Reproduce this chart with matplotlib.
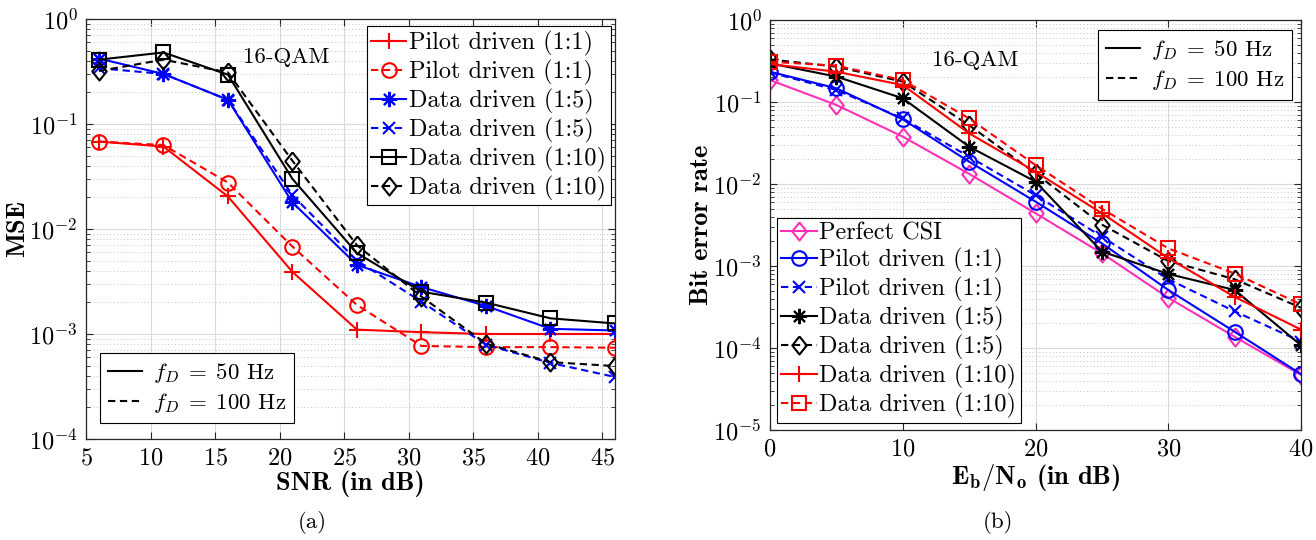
import matplotlib
matplotlib.use("Agg")
import matplotlib.pyplot as plt
from matplotlib.lines import Line2D
from matplotlib.ticker import LogLocator, NullFormatter, FixedLocator

plt.rcParams['font.family'] = ['cmr10', 'DejaVu Serif']
plt.rcParams['mathtext.fontset'] = 'cm'
plt.rcParams['axes.unicode_minus'] = False
plt.rcParams['axes.formatter.use_mathtext'] = True

# ---------------- data: panel (a) ----------------
snr = [6, 11, 16, 21, 26, 31, 36, 41, 46]
mse_pilot_50 = [0.068, 0.061, 0.0204, 0.0039, 0.00110, 0.00104, 0.00100, 0.00100, 0.00100]
mse_pilot_100 = [0.068, 0.063, 0.0277, 0.0068, 0.00189, 0.00077, 0.00075, 0.00075, 0.00074]
mse_d5_50 = [0.42, 0.30, 0.17, 0.0179, 0.00455, 0.0028, 0.00185, 0.00112, 0.00108]
mse_d5_100 = [0.34, 0.30, 0.17, 0.021, 0.0050, 0.00203, 0.00079, 0.00053, 0.00039]
mse_d10_50 = [0.41, 0.48, 0.295, 0.030, 0.0059, 0.00253, 0.00199, 0.00141, 0.00126]
mse_d10_100 = [0.32, 0.41, 0.31, 0.0446, 0.0070, 0.00227, 0.00081, 0.00054, 0.000495]

# ---------------- data: panel (b) ----------------
ebno = [0, 5, 10, 15, 20, 25, 30, 35, 40]
ber_perfect = [0.185, 0.092, 0.0378, 0.0133, 0.0044, 0.00143, 0.00041, 0.000137, 4.7e-5]
ber_pilot_50 = [0.234, 0.147, 0.0615, 0.0187, 0.0061, 0.00189, 0.00051, 0.000158, 4.8e-5]
ber_pilot_100 = [0.23, 0.14, 0.063, 0.0215, 0.0073, 0.00228, 0.00069, 0.00028, 0.00012]
ber_d5_50 = [0.296, 0.204, 0.111, 0.0285, 0.0107, 0.0015, 0.00080, 0.00051, 0.000108]
ber_d5_100 = [0.33, 0.27, 0.177, 0.052, 0.0135, 0.0032, 0.00115, 0.00069, 0.00031]
ber_d10_50 = [0.29, 0.234, 0.161, 0.0415, 0.0141, 0.0044, 0.00125, 0.00042, 0.000168]
ber_d10_100 = [0.31, 0.277, 0.185, 0.063, 0.017, 0.0050, 0.00164, 0.00081, 0.00034]

labels_a = ['Pilot driven (1:1)', 'Pilot driven (1:1)', 'Data driven (1:5)',
            'Data driven (1:5)', 'Data driven (1:10)', 'Data driven (1:10)']
labels_b = ['Perfect CSI', 'Pilot driven (1:1)', 'Pilot driven (1:1)', 'Data driven (1:5)',
            'Data driven (1:5)', 'Data driven (1:10)', 'Data driven (1:10)']
fd_labels = [r'$f_D\;=\;50$ Hz', r'$f_D\;=\;100$ Hz']

RED = '#ff0000'
BLUE = '#0000ff'
BLK = '#000000'
PINK = '#ff30b4'
DASH = (0, (3.5, 2.2))
LW = 1.5
FS = 16.5
LEGFS = 17.5
TFS = 17.5
LFS = 19
ASTER = (8, 2, 0)
DIAM = [(0, 1), (0.8, 0), (0, -1), (-0.8, 0), (0, 1)]

fig = plt.figure(figsize=(13.16, 5.40), dpi=100)
W, H = 1316, 540
ax1 = fig.add_axes([86 / W, (H - 439) / H, (615 - 86) / W, (439 - 19) / H])
ax2 = fig.add_axes([770 / W, (H - 430) / H, (1301 - 770) / W, (430 - 20) / H])

def mk(color, ls, marker, ms):
    return dict(color=color, linestyle=ls, linewidth=LW, marker=marker, markersize=ms,
                markerfacecolor='none', markeredgecolor=color, markeredgewidth=1.5)

styles_a = [mk(RED, '-', '+', 12), mk(RED, DASH, 'o', 10.5), mk(BLUE, '-', ASTER, 11),
            mk(BLUE, DASH, 'x', 8), mk(BLK, '-', 's', 9.5), mk(BLK, DASH, DIAM, 13)]
series_a = [mse_pilot_50, mse_pilot_100, mse_d5_50, mse_d5_100, mse_d10_50, mse_d10_100]
for y, st, lb in zip(series_a, styles_a, labels_a):
    ax1.plot(snr, y, label=lb, **st)

styles_b = [mk(PINK, '-', DIAM, 13), mk(BLUE, '-', 'o', 10.5), mk(BLUE, DASH, 'x', 8),
            mk(BLK, '-', ASTER, 11), mk(BLK, DASH, DIAM, 13), mk(RED, '-', '+', 12),
            mk(RED, DASH, 's', 9.5)]
series_b = [ber_perfect, ber_pilot_50, ber_pilot_100, ber_d5_50, ber_d5_100, ber_d10_50, ber_d10_100]
for y, st, lb in zip(series_b, styles_b, labels_b):
    ax2.plot(ebno, y, label=lb, **st)

def style_axes(ax):
    ax.set_yscale('log')
    ax.yaxis.set_major_locator(LogLocator(base=10, numticks=20))
    ax.yaxis.set_minor_locator(LogLocator(base=10, subs=range(2, 10), numticks=20))
    ax.yaxis.set_minor_formatter(NullFormatter())
    ax.grid(True, which='major', color='#dadada', linestyle='-', linewidth=0.8)
    ax.grid(True, which='minor', axis='y', color='#c4c4c4', linestyle=(0, (1, 2.5)), linewidth=0.7)
    ax.set_axisbelow(True)
    ax.tick_params(which='both', direction='in', top=True, right=True, labelsize=TFS,
                   colors='#262626', labelcolor='black')
    ax.tick_params(which='major', length=5, width=0.8, pad=6)
    ax.tick_params(which='minor', length=3, width=0.6)
    for s in ax.spines.values():
        s.set_color('#262626')
        s.set_linewidth(0.9)

style_axes(ax1)
style_axes(ax2)

ax1.set_xlim(5, 46)
ax1.set_ylim(1e-4, 1)
ax1.xaxis.set_major_locator(FixedLocator([5, 10, 15, 20, 25, 30, 35, 40, 45]))
ax2.set_xlim(0, 40)
ax2.set_ylim(1e-5, 1)
ax2.xaxis.set_major_locator(FixedLocator([0, 10, 20, 30, 40]))

ax1.set_xlabel('SNR (in dB)', fontfamily='cmb10', fontsize=LFS, labelpad=1)
ax1.set_ylabel('MSE', fontfamily='cmb10', fontsize=LFS, labelpad=0)
ax2.set_xlabel(r'$\mathbf{E}_\mathbf{b}/\mathbf{N}_\mathbf{o}$ (in dB)', fontfamily='cmb10',
               fontsize=LFS, labelpad=1)
ax2.set_ylabel('Bit error rate', fontfamily='cmb10', fontsize=LFS, labelpad=0)

ax1.text(0.378, 0.9095, '16-QAM', transform=ax1.transAxes, ha='center', va='center', fontsize=FS)
ax2.text(0.386, 0.902, '16-QAM', transform=ax2.transAxes, ha='center', va='center', fontsize=FS)

leg_kw = dict(frameon=True, fancybox=False, framealpha=1, edgecolor='black', borderaxespad=0,
              fontsize=LEGFS, handlelength=1.45, handletextpad=0.12, borderpad=0.18,
              labelspacing=0.16, numpoints=1)

# panel (a) legends
la = ax1.legend(loc='upper right', bbox_to_anchor=(0.992, 0.983), **leg_kw)
la.get_frame().set_linewidth(0.8)
ax1.add_artist(la)
fd_handles = [Line2D([], [], color='black', linestyle='-', linewidth=LW),
              Line2D([], [], color='black', linestyle=DASH, linewidth=LW)]
kw2 = dict(leg_kw)
kw2.update(fontsize=FS, handlelength=1.5, handletextpad=0.45, borderpad=0.35, labelspacing=0.25)
lb1 = ax1.legend(fd_handles, fd_labels, loc='lower left', bbox_to_anchor=(0.0265, 0.038), **kw2)
lb1.get_frame().set_linewidth(0.8)

# panel (b) legends
lc = ax2.legend(loc='lower left', bbox_to_anchor=(0.013, 0.018), **leg_kw)
lc.get_frame().set_linewidth(0.8)
ax2.add_artist(lc)
ld = ax2.legend(fd_handles, fd_labels, loc='upper right', bbox_to_anchor=(0.983, 0.9756), **kw2)
ld.get_frame().set_linewidth(0.8)

fig.text(312 / W, 1 - 523 / H, '(a)', ha='center', va='center', fontsize=FS)
fig.text(998 / W, 1 - 522 / H, '(b)', ha='center', va='center', fontsize=FS)

fig.savefig('out.png', dpi=100)
